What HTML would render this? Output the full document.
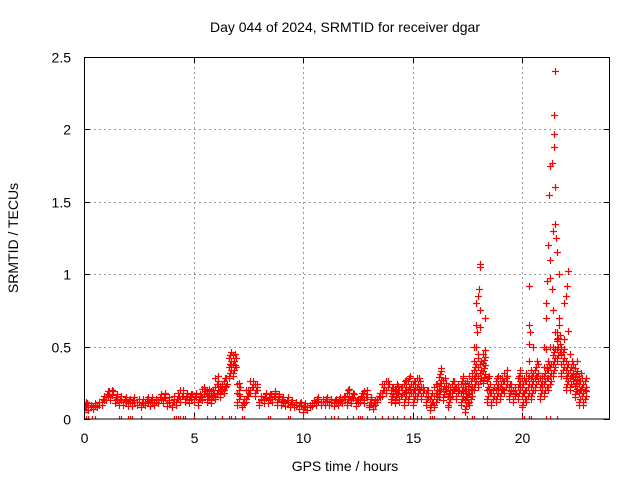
<!DOCTYPE html>
<html><head><meta charset="utf-8"><style>
html,body{margin:0;padding:0;background:#fff;width:640px;height:480px;overflow:hidden}
text{font-family:"Liberation Sans",sans-serif;font-size:14px;fill:#000}
</style></head><body>
<svg id="chart" width="640" height="480" xmlns="http://www.w3.org/2000/svg">
<defs><clipPath id="pc"><rect x="84" y="57" width="526" height="362"/></clipPath></defs>
<g id="grid"></g>
<g id="ticks"></g>
<g id="marks" clip-path="url(#pc)"></g>
<rect x="84.5" y="57.5" width="525" height="361.5" fill="none" stroke="#000"/>
<text x="345" y="32" text-anchor="middle">Day 044 of 2024, SRMTID for receiver dgar</text>
<text x="345" y="471" text-anchor="middle">GPS time / hours</text>
<text x="0" y="0" text-anchor="middle" transform="translate(18,238) rotate(-90)">SRMTID / TECUs</text>
</svg>
<script>
const xTicks=[0,5,10,15,20];
const yTicks=[0,0.5,1,1.5,2,2.5];
const yTickLabels=["0","0.5","1","1.5","2","2.5"];
const step=0.2;
const lo=[.05,.06,.07,.08,.10,.13,.13,.11,.10,.10,.09,.09,.10,.08,.10,.09,.10,.11,.11,.09,.08,.10,.12,.12,.11,.12,.10,.13,.12,.11,.14,.15,.18,.28,.30,.10,.08,.12,.18,.16,.10,.11,.11,.12,.10,.10,.09,.08,.08,.07,.05,.06,.09,.10,.10,.10,.10,.09,.10,.11,.10,.11,.09,.12,.11,.08,.07,.12,.16,.18,.12,.11,.12,.10,.12,.10,.14,.14,.10,.06,.08,.15,.13,.08,.16,.14,.10,.05,.10,.20,.22,.25,.12,.10,.12,.14,.18,.14,.12,.14,.08,.12,.14,.20,.14,.16,.20,.30,.40,.30,.20,.20,.15,.10,.10];
const hi=[.12,.10,.11,.12,.16,.19,.20,.17,.16,.15,.14,.15,.14,.14,.15,.15,.14,.17,.18,.15,.16,.18,.20,.18,.17,.18,.17,.22,.21,.20,.30,.24,.28,.46,.45,.25,.14,.20,.26,.24,.16,.18,.17,.19,.17,.15,.15,.13,.12,.12,.11,.10,.13,.15,.14,.15,.14,.14,.15,.16,.21,.18,.14,.18,.20,.15,.13,.18,.24,.26,.22,.24,.22,.27,.30,.26,.28,.22,.20,.18,.24,.35,.28,.22,.26,.24,.30,.26,.32,.80,1.05,.70,.30,.22,.30,.28,.34,.24,.22,.34,.28,.92,.50,.40,.30,.80,1.75,2.40,1.00,.80,1.02,.40,.40,.32,.28];
const peakTimes=[17.8,17.9,17.95,18.0,18.05,18.1,18.1,18.0,17.9,20.3,20.35,20.3,21.0,21.1,21.15,21.2,21.25,21.3,21.35,21.4,21.45,21.45,21.5,21.5,21.55,21.6,21.3,21.4,21.6,21.7,21.8,22.0,22.05,21.15,21.25,22.2,21.45,21.35];
const peakVals=[.5,.65,.6,.85,.9,1.07,.75,.45,.38,.65,.6,.4,.5,.7,.95,1.2,1.55,1.1,.9,1.3,1.97,2.1,1.6,.6,1.25,1.15,.5,.75,.55,.65,.45,.85,.92,.35,.38,.45,1.88,1.77];
const zeroTimes=[.1,.2,.35,.5,1.6,1.7,2.0,2.1,2.2,2.6,4.1,4.2,4.3,4.4,4.5,4.6,5.0,5.6,6.0,6.3,6.6,6.7,6.9,7.2,7.3,8.4,8.5,9.3,9.4,10.0,11.0,11.3,11.4,11.6,12.0,12.3,12.5,12.6,12.7,12.9,13.3,13.6,13.9,14.1,14.3,14.6,14.9,15.2,15.4,15.8,15.9,16.0,16.5,16.9,17.5,17.7,17.8,18.2,18.4,20.0,20.1,20.3,20.4,21.1,21.3,21.6];
const X0=84,X1=609.6,Y0=419,Y1=57;
const xs=t=>X0+t/24*(X1-X0);
const ys=v=>Y0-v/2.5*(Y0-Y1);
const NS="http://www.w3.org/2000/svg";
function mk(tag,attrs,parent){const e=document.createElementNS(NS,tag);for(const k in attrs)e.setAttribute(k,attrs[k]);parent.appendChild(e);return e;}
const grid=document.getElementById('grid'),ticks=document.getElementById('ticks'),marks=document.getElementById('marks');
xTicks.forEach(t=>{const x=Math.round(xs(t))+0.5;
 if(t>0){const g=mk('line',{x1:x,x2:x,y1:Y1,y2:Y0,stroke:'#999','stroke-dasharray':'2,3'},grid);}
 const a=mk('path',{d:`M${x},${Y0}v-6M${x},${Y1}v6`,stroke:'#000'},ticks);
 const l=mk('text',{x:x,y:443,'text-anchor':'middle'},ticks);l.textContent=String(t);});
yTicks.forEach((v,i)=>{const y=Math.round(ys(v))+0.5;
 if(v>0&&v<2.5){const g=mk('line',{x1:X0,x2:X1,y1:y,y2:y,stroke:'#999','stroke-dasharray':'2,3'},grid);}
 const a=mk('path',{d:`M${X0},${y}h6M${X1},${y}h-6`,stroke:'#000'},ticks);
 const l=mk('text',{x:71,y:y+5,'text-anchor':'end'},ticks);l.textContent=yTickLabels[i];});
let d='';
function plus(t,v){const x=Math.round(xs(t))+0.5,y=Math.round(ys(v))+0.5;d+=`M${x-3.5},${y}h7M${x},${y-3.5}v7`;}
lo.forEach((l,i)=>{const t=i*step,h=hi[i];
 plus(t,l);plus(t+0.1,h);
 let k=0;
 for(let v=l+0.02;v<Math.min(h,l+0.22);v+=0.02){plus(t+(k%3)*0.06,v);k++;}
 plus(t+0.1,(l+h)/2);});
peakTimes.forEach((t,i)=>plus(t,peakVals[i]));
zeroTimes.forEach(t=>plus(t,0));
const p=mk('path',{d:d,stroke:'#f00','stroke-width':1.2,fill:'none'},marks);


</script>
</body></html>
